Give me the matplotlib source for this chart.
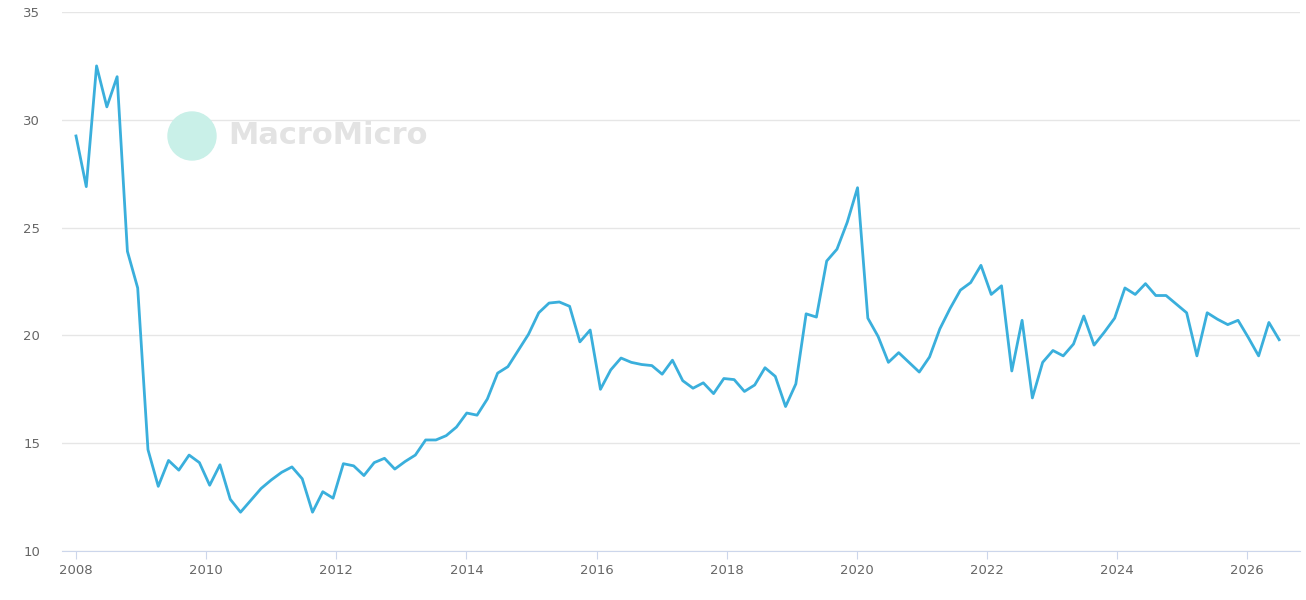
import numpy as np
import matplotlib
matplotlib.use("Agg")
import matplotlib.pyplot as plt
from matplotlib.patches import Circle

values = [29.25,26.9,32.5,30.6,32.0,23.9,22.2,14.7,13.0,14.2,13.75,14.45,14.1,13.05,14.0,12.4,11.8,12.35,12.9,13.3,
13.65,13.9,13.35,11.8,12.75,12.45,14.05,13.95,13.5,14.1,14.3,13.8,14.15,14.45,15.15,15.15,15.35,15.75,16.4,16.3,
17.05,18.25,18.55,19.3,20.05,21.05,21.5,21.55,21.35,19.7,20.25,17.5,18.4,18.95,18.75,18.65,18.6,18.2,18.85,17.9,
17.55,17.8,17.3,18.0,17.95,17.4,17.7,18.5,18.1,16.7,17.75,21.0,20.85,23.45,24.0,25.25,26.85,20.8,19.95,18.75,
19.2,18.75,18.3,19.0,20.3,21.25,22.1,22.45,23.25,21.9,22.3,18.35,20.7,17.1,18.75,19.3,19.05,19.6,20.9,19.55,
20.15,20.8,22.2,21.9,22.4,21.85,21.85,21.45,21.05,19.05,21.05,20.75,20.5,20.7,19.9,19.05,20.6,19.8]
start_year, end_year = 2008.0, 2026.49
years = np.linspace(start_year, end_year, len(values))
xticks = list(range(2008, 2027, 2))
yticks = [10, 15, 20, 25, 30, 35]

fig = plt.figure(figsize=(13.06, 6.0), dpi=100)
ax = fig.add_axes([62/1306, 49/600, 1238/1306, 539/600])
ax.plot(years, values, color="#3aafdc", lw=2)
ax.set_xlim(2007.785, 2026.81)
ax.set_ylim(10, 35)
ax.set_xticks(xticks)
ax.set_yticks(yticks)
ax.grid(axis="y", color="#e6e6e6", lw=1)
ax.set_axisbelow(True)
for s in ["top", "right", "left"]:
    ax.spines[s].set_visible(False)
ax.spines["bottom"].set_color("#ccd6eb")
ax.tick_params(axis="y", length=0, colors="#666666", labelsize=9.5, pad=28)
ax.tick_params(axis="x", colors="#666666", labelsize=9.5, color="#ccd6eb", length=6)
for lab in ax.get_yticklabels():
    lab.set_horizontalalignment("left")

c = Circle((192, 600-136), 24, transform=None, color="#c9f0e8", zorder=0)
fig.patches.append(c)
fig.text(228/1306, 1-136/600, "MacroMicro", fontsize=22, fontweight="bold",
         color="#e3e3e3", va="center", ha="left")
fig.savefig("out.png", dpi=100)
